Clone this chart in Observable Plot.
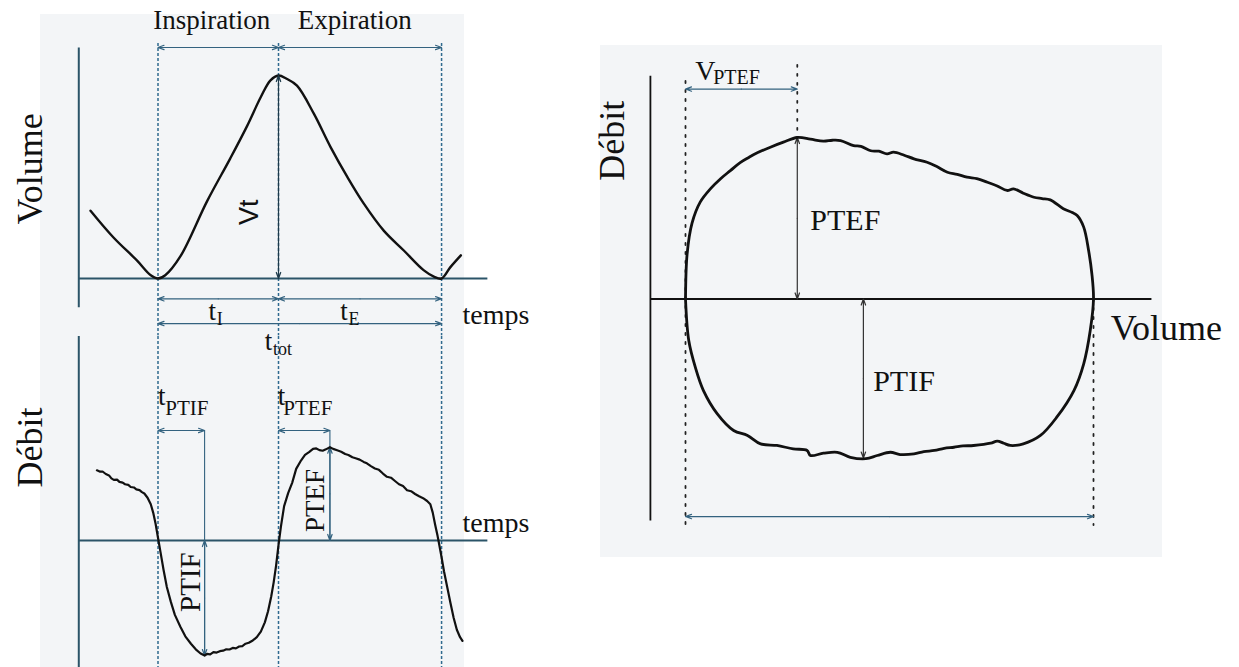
<!DOCTYPE html>
<html><head><meta charset="utf-8">
<script src="https://cdn.jsdelivr.net/npm/d3@7"></script>
<script src="https://cdn.jsdelivr.net/npm/@observablehq/plot@0.6"></script>
<style>
body{margin:0;background:#fff;}
#wrap{position:relative;width:1239px;height:667px;overflow:hidden;background:#fff;}
#wrap svg{position:absolute;left:0;top:0;}
.bg{position:absolute;background:#f3f5f7;}
</style></head><body>
<div id="wrap">
<div class="bg" style="left:40px;top:14px;width:424px;height:653px"></div>
<div class="bg" style="left:600px;top:45px;width:562px;height:512px"></div>
</div>
<script>
// ---------- key values ----------
const phaseLabels = ["Inspiration", "Expiration"];
const tI = 1.5;        // inspiratory time (s)
const tTot = 3.53;     // total cycle time (s)
const Vt = 0.5;        // tidal volume
// volume vs time
const volT = [-0.84,-0.554,-0.26,-0.09,0,0.09,0.28,0.61,0.90,1.11,1.28,1.40,1.5,1.60,1.73,1.94,2.15,2.36,2.56,2.81,3.06,3.31,3.44,3.53,3.64,3.77];
const volV = [0.167,0.101,0.044,0.008,0,0.008,0.055,0.19,0.296,0.376,0.447,0.488,0.5,0.492,0.475,0.406,0.323,0.249,0.185,0.118,0.069,0.020,0.004,0,0.028,0.057];
// flow vs time
const flowT = [-0.76,-0.72,-0.69,-0.65,-0.61,-0.58,-0.55,-0.51,-0.48,-0.44,-0.41,-0.37,-0.34,-0.30,-0.27,-0.23,-0.20,-0.17,-0.13,-0.09,-0.06,-0.03,0,0.03,0.07,0.11,0.16,0.21,0.28,0.34,0.41,0.47,0.53,0.58,0.61,0.65,0.69,0.73,0.77,0.81,0.85,0.89,0.93,0.97,1.01,1.05,1.09,1.13,1.18,1.23,1.28,1.33,1.37,1.41,1.44,1.47,1.50,1.53,1.57,1.62,1.67,1.72,1.78,1.83,1.88,1.93,1.97,2.01,2.05,2.09,2.14,2.18,2.23,2.28,2.33,2.37,2.42,2.46,2.51,2.56,2.60,2.65,2.70,2.75,2.80,2.85,2.90,2.95,3.00,3.05,3.10,3.15,3.20,3.25,3.30,3.35,3.39,3.42,3.45,3.48,3.50,3.53,3.56,3.60,3.64,3.68,3.72,3.76,3.79];
const flowF = [0.755,0.74,0.742,0.715,0.70,0.668,0.652,0.655,0.63,0.622,0.605,0.598,0.575,0.57,0.55,0.541,0.52,0.505,0.46,0.39,0.30,0.18,0.03,-0.12,-0.32,-0.50,-0.66,-0.80,-0.93,-1.03,-1.11,-1.17,-1.215,-1.237,-1.22,-1.225,-1.20,-1.205,-1.19,-1.185,-1.17,-1.172,-1.155,-1.16,-1.14,-1.135,-1.11,-1.10,-1.075,-1.04,-0.98,-0.88,-0.76,-0.60,-0.45,-0.27,-0.05,0.15,0.37,0.51,0.62,0.77,0.86,0.92,0.95,0.985,0.99,0.972,0.965,0.98,1.003,0.985,0.97,0.955,0.93,0.92,0.895,0.885,0.87,0.845,0.83,0.80,0.775,0.76,0.72,0.685,0.675,0.64,0.605,0.585,0.54,0.53,0.50,0.475,0.455,0.425,0.39,0.30,0.17,0.05,-0.04,-0.18,-0.33,-0.50,-0.67,-0.83,-0.96,-1.04,-1.08];
const tPTIF = 0.58, PTIF = -1.237;
const tPTEF = 2.14, PTEF = 1.003;
// flow-volume loop
const loopV = [0,0.002,0.008,0.018,0.031,0.043,0.055,0.067,0.078,0.088,0.104,0.120,0.137,0.153,0.169,0.18,0.190,0.206,0.215,0.227,0.237,0.247,0.255,0.268,0.280,0.296,0.308,0.321,0.333,0.345,0.357,0.370,0.382,0.394,0.402,0.414,0.427,0.437,0.447,0.463,0.474,0.480,0.488,0.494,0.498,0.5,0.496,0.488,0.476,0.455,0.435,0.414,0.398,0.390,0.382,0.374,0.353,0.340,0.329,0.317,0.305,0.292,0.280,0.263,0.251,0.235,0.221,0.202,0.186,0.169,0.153,0.149,0.132,0.112,0.092,0.076,0.059,0.039,0.022,0.012,0.004,0];
const loopF = [0,0.28,0.47,0.60,0.685,0.745,0.795,0.845,0.878,0.905,0.94,0.971,1.0,0.99,0.977,0.983,0.981,0.950,0.945,0.918,0.915,0.899,0.909,0.89,0.868,0.847,0.82,0.785,0.772,0.754,0.745,0.723,0.70,0.672,0.682,0.655,0.630,0.622,0.614,0.559,0.535,0.517,0.445,0.30,0.156,0,-0.195,-0.401,-0.567,-0.732,-0.845,-0.897,-0.907,-0.893,-0.880,-0.893,-0.907,-0.91,-0.918,-0.925,-0.938,-0.945,-0.959,-0.963,-0.949,-0.969,-0.989,-0.980,-0.949,-0.955,-0.969,-0.938,-0.928,-0.907,-0.897,-0.845,-0.814,-0.711,-0.567,-0.422,-0.257,0];
const VPTEF = 0.137, loopPTEF = 1.0;
const VPTIF = 0.218, loopPTIF = -0.985;

// ---------- styling ----------
const SERIF = "Liberation Serif, Times New Roman, serif";
const SANS = "Liberation Sans, Arial, sans-serif";
const INK = "#111";
const BLUE = "#33627f";
const AXL = "#2b5468";

const seg = (x1, y1, x2, y2, o = {}) =>
  Plot.link([{x1, y1, x2, y2}], {x1: "x1", y1: "y1", x2: "x2", y2: "y2", ...o});
// double-headed arrow: two arrows from the midpoint outwards
const dArrow = (x1, y1, x2, y2, o = {}) => {
  const mx = (x1 + x2) / 2, my = (y1 + y2) / 2;
  return Plot.arrow([{x1: mx, y1: my, x2: x1, y2: y1}, {x1: mx, y1: my, x2, y2}],
    {x1: "x1", y1: "y1", x2: "x2", y2: "y2", headLength: 8, headAngle: 40,
     stroke: BLUE, strokeWidth: 1.2, ...o});
};
const lab = (s, x, y, o = {}) =>
  Plot.text([{x, y, s}], {x: "x", y: "y", text: "s", fontFamily: SERIF, fill: INK, ...o});
const dashL = {stroke: "#2f6a8f", strokeWidth: 1.5, strokeDasharray: "3,2"};
const dotR = {stroke: "#222", strokeWidth: 1.8, strokeDasharray: "2,7", strokeLinecap: "round"};
const base = {width: 1239, height: 667, margin: 0, style: "background:transparent;overflow:visible;position:absolute;left:0;top:0"};
const wrap = document.getElementById("wrap");

// ---------- panel 1 : volume vs time ----------
const volData = volT.map((t, i) => ({t, v: volV[i]}));
const tAx = -0.986, tEnd = 4.1;
wrap.append(Plot.plot({
  ...base,
  x: {domain: [0, tI], range: [157.5, 278], axis: null},
  y: {domain: [0, Vt], range: [278, 75], axis: null},
  marks: [
    ...[0, tI, tTot].map(t => seg(t, 0.58, t, -0.14, dashL)),
    seg(tAx, 0.569, tAx, -0.071, {stroke: AXL, strokeWidth: 2}),
    seg(tAx, 0, tEnd, 0, {stroke: AXL, strokeWidth: 2}),
    Plot.line(volData, {x: "t", y: "v", curve: "catmull-rom", stroke: INK, strokeWidth: 2.4}),
    dArrow(0, 0.569, tI, 0.569),
    dArrow(tI, 0.569, tTot, 0.569),
    dArrow(tI, Vt, tI, 0, {stroke: "#1d3a4a"}),
    dArrow(0, -0.05, tI, -0.05),
    dArrow(tI, -0.05, tTot, -0.05),
    dArrow(0, -0.111, tTot, -0.111),
    lab(phaseLabels[0], 0.67, 0.635, {fontSize: 27}),
    lab(phaseLabels[1], 2.45, 0.635, {fontSize: 27}),
    lab("Volume", -1.59, 0.27, {fontSize: 36, rotate: -90}),
    lab("Vt", 1.14, 0.163, {fontSize: 27, rotate: -90, fontFamily: SANS}),
    lab("t", 0.63, -0.08, {fontSize: 27, textAnchor: "start"}),
    lab("I", 0.73, -0.10, {fontSize: 18, textAnchor: "start"}),
    lab("t", 2.27, -0.08, {fontSize: 27, textAnchor: "start"}),
    lab("E", 2.37, -0.10, {fontSize: 18, textAnchor: "start"}),
    lab("t", 1.33, -0.155, {fontSize: 27, textAnchor: "start"}),
    lab("tot", 1.43, -0.175, {fontSize: 18, textAnchor: "start"}),
    lab("temps", 3.79, -0.09, {fontSize: 28, textAnchor: "start"})
  ]
}));

// ---------- panel 2 : flow vs time ----------
const flowData = flowT.map((t, i) => ({t, f: flowF[i]}));
const fBr = 1.183;
wrap.append(Plot.plot({
  ...base,
  x: {domain: [0, tI], range: [157.5, 278], axis: null},
  y: {domain: [0, 1], range: [540, 447], axis: null},
  marks: [
    ...[0, tI, tTot].map(t => seg(t, 2.2, t, -1.4, dashL)),
    seg(tAx, 2.2, tAx, -1.4, {stroke: AXL, strokeWidth: 2}),
    seg(tAx, 0, tEnd, 0, {stroke: AXL, strokeWidth: 2}),
    seg(tPTIF, fBr, tPTIF, PTIF, {stroke: BLUE, strokeWidth: 1.1}),
    seg(tPTEF, fBr, tPTEF, 0, {stroke: BLUE, strokeWidth: 1.1}),
    dArrow(0, fBr, tPTIF, fBr),
    dArrow(tI, fBr, tPTEF, fBr),
    dArrow(tPTIF, 0, tPTIF, PTIF),
    dArrow(tPTEF, 0, tPTEF, PTEF),
    Plot.line(flowData, {x: "t", y: "f", stroke: INK, strokeWidth: 2.2, strokeLinejoin: "round"}),
    lab("Débit", -1.59, 1.0, {fontSize: 36, rotate: -90}),
    lab("temps", 3.79, 0.19, {fontSize: 28, textAnchor: "start"}),
    lab("t", 0.0, 1.55, {fontSize: 27, textAnchor: "start"}),
    lab("PTIF", 0.09, 1.42, {fontSize: 21, textAnchor: "start"}),
    lab("t", 1.49, 1.55, {fontSize: 27, textAnchor: "start"}),
    lab("PTEF", 1.56, 1.42, {fontSize: 21, textAnchor: "start"}),
    lab("PTIF", 0.405, -0.448, {fontSize: 29, rotate: -90}),
    lab("PTEF", 1.96, 0.43, {fontSize: 27, rotate: -90})
  ]
}));

// ---------- panel 3 : flow-volume loop ----------
const loopData = loopV.map((v, i) => ({v, f: loopF[i]}));
const vAx = -0.043;
wrap.append(Plot.plot({
  ...base,
  x: {domain: [0, Vt], range: [685, 1093], axis: null},
  y: {domain: [0, 1], range: [298.5, 137], axis: null},
  marks: [
    seg(0, 1.35, 0, -1.40, dotR),
    seg(VPTEF, 1.45, VPTEF, loopPTEF, dotR),
    seg(Vt, 0, Vt, -1.40, dotR),
    seg(vAx, 1.383, vAx, -1.371, {stroke: INK, strokeWidth: 1.8}),
    seg(vAx, 0, 0.571, 0, {stroke: INK, strokeWidth: 1.8}),
    dArrow(0, 1.30, VPTEF, 1.30),
    dArrow(VPTEF, 0, VPTEF, loopPTEF, {stroke: "#333"}),
    dArrow(VPTIF, 0, VPTIF, loopPTIF, {stroke: "#333"}),
    dArrow(0, -1.347, Vt, -1.347),
    Plot.line(loopData, {x: "v", y: "f", curve: "catmull-rom", stroke: INK, strokeWidth: 2.8, strokeLinejoin: "round"}),
    lab("Débit", -0.0895, 0.98, {fontSize: 36, rotate: -90}),
    lab("Volume", 0.521, -0.183, {fontSize: 36, textAnchor: "start"}),
    lab("V", 0.012, 1.41, {fontSize: 28, textAnchor: "start"}),
    lab("PTEF", 0.034, 1.37, {fontSize: 20, textAnchor: "start"}),
    lab("PTEF", 0.153, 0.486, {fontSize: 30, textAnchor: "start"}),
    lab("PTIF", 0.230, -0.511, {fontSize: 30, textAnchor: "start"})
  ]
}));
</script>
</body></html>
